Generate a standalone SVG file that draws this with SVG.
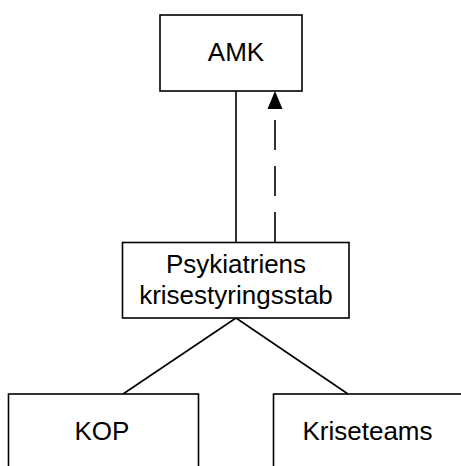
<svg xmlns="http://www.w3.org/2000/svg" width="461" height="466" viewBox="0 0 461 466">
  <style>
    .box { fill: #ffffff; stroke: #000000; stroke-width: 1.6; }
    .label { font-family: "Liberation Sans", Arial, sans-serif; font-size: 26px; fill: #000000; text-anchor: middle; }
    .link { fill: none; stroke: #000000; stroke-width: 1.6; }
    .dashed { stroke-dasharray: 30 16; }
  </style>

  <g id="connectors">
    <line class="link" x1="236" y1="91" x2="236" y2="242"/>
    <line class="link dashed" x1="275" y1="242" x2="275" y2="108"/>
    <path d="M267.5 109 L275 91 L282.5 109 Z" fill="#000000"/>
    <line class="link" x1="236" y1="318" x2="123" y2="394"/>
    <line class="link" x1="236" y1="318" x2="348" y2="394"/>
  </g>

  <g id="amk">
    <rect class="box" x="160" y="15" width="142" height="76"/>
    <text class="label" x="236" y="61">AMK</text>
  </g>

  <g id="psykiatriens-krisestyringsstab">
    <rect class="box" x="122.5" y="242.5" width="226.5" height="75.5"/>
    <text class="label" x="236" y="273">Psykiatriens</text>
    <text class="label" x="236" y="304">krisestyringsstab</text>
  </g>

  <g id="kop">
    <rect class="box" x="8.5" y="394" width="190" height="90"/>
    <text class="label" x="102" y="440">KOP</text>
  </g>

  <g id="kriseteams">
    <rect class="box" x="273.5" y="394" width="190" height="90"/>
    <text class="label" x="367.5" y="440">Kriseteams</text>
  </g>
</svg>
